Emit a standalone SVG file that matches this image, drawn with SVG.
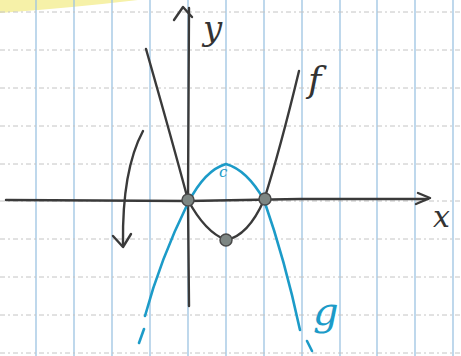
<svg xmlns="http://www.w3.org/2000/svg" width="461" height="356" viewBox="0 0 461 356">
<style>
.vg{stroke:#9cc3e2;stroke-width:1.3}
.hg{stroke:#c4c4c4;stroke-width:1;stroke-dasharray:5 3 2 3}
.ink{fill:none;stroke:#3a3a3a;stroke-width:2.4;stroke-linecap:round;stroke-linejoin:round}
.blue{fill:none;stroke:#1c9bc8;stroke-width:2.6;stroke-linecap:round;stroke-linejoin:round}
.lbl{font-family:"DejaVu Serif","Liberation Serif",serif;font-style:italic;fill:#333}
.dot{fill:#7d8683;stroke:#4a4a4a;stroke-width:1.5}
</style>
<rect width="461" height="356" fill="#ffffff"/>
<path d="M0,0 L138,0 Q70,8 0,13 Z" fill="#f6f1a8"/>
<g id="grid">
<line class="vg" x1="36" y1="0" x2="36" y2="356"/>
<line class="vg" x1="74" y1="0" x2="74" y2="356"/>
<line class="vg" x1="112" y1="0" x2="112" y2="356"/>
<line class="vg" x1="150" y1="0" x2="150" y2="356"/>
<line class="vg" x1="188" y1="0" x2="188" y2="356"/>
<line class="vg" x1="226" y1="0" x2="226" y2="356"/>
<line class="vg" x1="264" y1="0" x2="264" y2="356"/>
<line class="vg" x1="302" y1="0" x2="302" y2="356"/>
<line class="vg" x1="340" y1="0" x2="340" y2="356"/>
<line class="vg" x1="377" y1="0" x2="377" y2="356"/>
<line class="vg" x1="415" y1="0" x2="415" y2="356"/>
<line class="vg" x1="453" y1="0" x2="453" y2="356"/>
<line class="hg" x1="0" y1="12" x2="461" y2="12"/>
<line class="hg" x1="0" y1="50" x2="461" y2="50"/>
<line class="hg" x1="0" y1="88" x2="461" y2="88"/>
<line class="hg" x1="0" y1="126" x2="461" y2="126"/>
<line class="hg" x1="0" y1="164" x2="461" y2="164"/>
<line class="hg" x1="0" y1="201" x2="461" y2="201"/>
<line class="hg" x1="0" y1="239" x2="461" y2="239"/>
<line class="hg" x1="0" y1="277" x2="461" y2="277"/>
<line class="hg" x1="0" y1="315" x2="461" y2="315"/>
<line class="hg" x1="0" y1="353" x2="461" y2="353"/>
</g>
<g id="axes">
<path class="ink" d="M6,200 L188,201 L300,199 L428,199"/>
<path class="ink" d="M418,193 L430,198 L416,204"/>
<path class="ink" d="M189,306 L188,200 L189,8"/>
<path class="ink" d="M174,20 L183,7 L192,17"/>
</g>
<g id="f">
<path class="ink" d="M146,49 Q172,140 188,200 Q205,232 226,240 Q248,236 264,200 Q280,150 299,71"/>
</g>
<g id="g">
<path class="blue" d="M145,316 Q160,260 188,203 Q205,170 226,164 Q247,170 264,200 Q285,260 300,330"/>
<path class="blue" d="M144,329 L139,343"/>
<path class="blue" d="M307,341 L312,351"/>
</g>
<g id="arrow">
<path class="ink" d="M143,131 Q122,170 123,244"/>
<path class="ink" d="M113,236 L123,247 L131,234"/>
</g>
<g id="dots">
<circle class="dot" cx="188" cy="200" r="6"/>
<circle class="dot" cx="265" cy="199" r="6"/>
<circle class="dot" cx="226" cy="240" r="6"/>
</g>
<g id="labels">
<text class="lbl" x="203" y="40" font-size="34">y</text>
<text class="lbl" x="308" y="92" font-size="36">f</text>
<text class="lbl" x="433" y="227" font-size="30">x</text>
<text class="lbl" x="313" y="325" font-size="40" style="fill:#1c9bc8">g</text>
<text class="lbl" x="219" y="177" font-size="15" style="fill:#1c9bc8">c</text>
</g>
</svg>
